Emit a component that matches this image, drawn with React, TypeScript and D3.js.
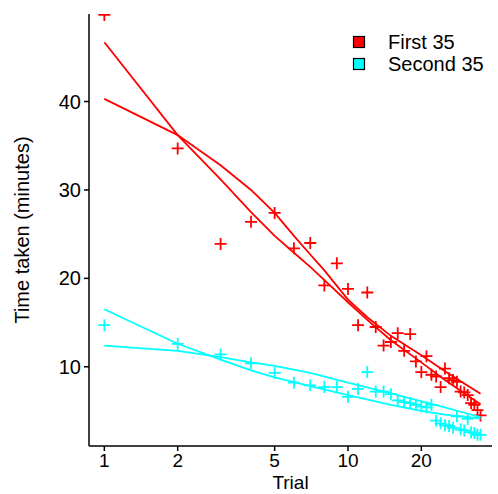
import React from "react";
import * as d3 from "d3";

// Trial numbers (x, log scale)
const trials = [1,2,3,4,5,6,7,8,9,10,11,12,13,14,15,16,17,18,19,20,21,22,23,24,25,26,27,28,29,30,31,32,33,34,35];
// Observed times (minutes)
const firstTimes = [49.8,34.7,23.9,26.4,27.4,23.4,24.0,19.2,21.7,18.8,14.7,18.4,14.5,12.4,12.8,13.8,11.8,13.7,10.6,9.4,11.2,9.1,8.9,7.7,9.8,8.7,8.5,8.3,7.2,7.1,6.8,5.9,5.7,5.1,4.5];
const secondTimes = [14.7,12.6,11.4,10.4,9.3,8.2,7.9,7.7,7.7,6.6,7.5,9.4,7.2,7.2,6.9,6.2,6.0,5.9,5.7,5.5,5.4,5.7,3.9,3.6,3.4,3.3,3.1,4.4,2.9,2.8,4.1,2.6,2.5,2.3,2.3];

// Fitted curves
const fitTrials = [1,2,3,4,5,6,7,8,10,12,15,20,25,30,35];
const firstFitA = [46.7,36.2,31.2,27.5,24.8,22.9,21.3,19.8,17.3,15.3,13.0,10.5,8.5,7.0,5.75];
const firstFitB = [40.3,36.2,32.8,30.0,27.4,24.8,22.7,20.9,17.6,15.6,13.5,11.3,9.5,8.1,6.95];
const secondFitTrials = [1,2,3,4,5,7,10,15,20,25,30,35];
const secondFitA = [16.5,12.6,10.8,9.6,8.8,7.8,6.8,5.7,5.0,4.6,4.35,4.15];
const secondFitB = [12.4,11.8,11.1,10.5,10.1,9.3,8.2,7.0,6.1,5.4,4.8,4.3];

const xTicks = [1, 2, 5, 10, 20];
const yTicks = [10, 20, 30, 40];
const seriesNames = ["First 35", "Second 35"];
const seriesColors = ["#FF0000", "#00FFFF"];

export default function App() {
  const W = 498, H = 494;
  const left = 89, right = 492, top = 14, bottom = 446;
  const x = d3.scaleLog().domain([0.865, 39]).range([left, right]);
  const y = d3.scaleLinear().domain([1.04, 49.9]).range([bottom, top]);
  const line = d3.line<[number, number]>().x(d => x(d[0])).y(d => y(d[1]));
  const font = "Liberation Sans, Arial, Helvetica, sans-serif";
  const fs = 20;
  const fsTick = 19;

  const series = [
    { pts: firstTimes, fits: [firstFitA, firstFitB], fitX: fitTrials, color: seriesColors[0] },
    { pts: secondTimes, fits: [secondFitA, secondFitB], fitX: secondFitTrials, color: seriesColors[1] },
  ];

  const arm = 6;

  return (
    <svg width={W} height={H} style={{ position: "absolute", left: 0, top: 0, background: "#fff" }}>
      <defs>
        <clipPath id="panel">
          <rect x={left} y={top} width={right - left} height={bottom - top} />
        </clipPath>
      </defs>
      <rect x={0} y={0} width={W} height={H} fill="#fff" />
      <g clipPath="url(#panel)">
        {series.map((s, si) => (
          <g key={si}>
            {s.fits.map((f, fi) => (
              <path key={fi} d={line(s.fitX.map((t, i) => [t, f[i]]) as [number, number][]) || ""}
                fill="none" stroke={s.color} strokeWidth={1.8} />
            ))}
            {s.pts.map((v, i) => {
              const cx = x(trials[i]), cy = y(v);
              return (
                <path key={i} d={`M${cx - arm},${cy}H${cx + arm}M${cx},${cy - arm}V${cy + arm}`}
                  stroke={s.color} strokeWidth={1.8} fill="none" />
              );
            })}
          </g>
        ))}
      </g>
      {/* axes */}
      <line x1={left} x2={left} y1={top} y2={bottom} stroke="#000" strokeWidth={1.5} />
      <line x1={left} x2={right} y1={bottom} y2={bottom} stroke="#000" strokeWidth={1.5} />
      {yTicks.map(t => (
        <g key={t}>
          <line x1={left - 5} x2={left} y1={y(t)} y2={y(t)} stroke="#000" strokeWidth={1.5} />
          <text x={left - 8} y={y(t)} dy="0.35em" textAnchor="end" fontFamily={font} fontSize={fs} fill="#000">{t}</text>
        </g>
      ))}
      {xTicks.map(t => (
        <g key={t}>
          <line x1={x(t)} x2={x(t)} y1={bottom} y2={bottom + 5} stroke="#000" strokeWidth={1.5} />
          <text x={x(t)} y={bottom + 21} textAnchor="middle" fontFamily={font} fontSize={fsTick} fill="#000">{t}</text>
        </g>
      ))}
      <text x={(left + right) / 2} y={489} textAnchor="middle" fontFamily={font} fontSize={fsTick} fill="#000">Trial</text>
      <text transform={`translate(29,${(top + bottom) / 2}) rotate(-90)`} textAnchor="middle" fontFamily={font} fontSize={fs} fill="#000">Time taken (minutes)</text>
      {/* legend */}
      {seriesNames.map((n, i) => (
        <g key={n}>
          <rect x={353.5} y={36.5 + i * 22} width={11} height={11} fill={seriesColors[i]} stroke="#000" strokeWidth={1.2} />
          <text x={388} y={42 + i * 22} dy="0.35em" fontFamily={font} fontSize={fs} fill="#000">{n}</text>
        </g>
      ))}
    </svg>
  );
}
